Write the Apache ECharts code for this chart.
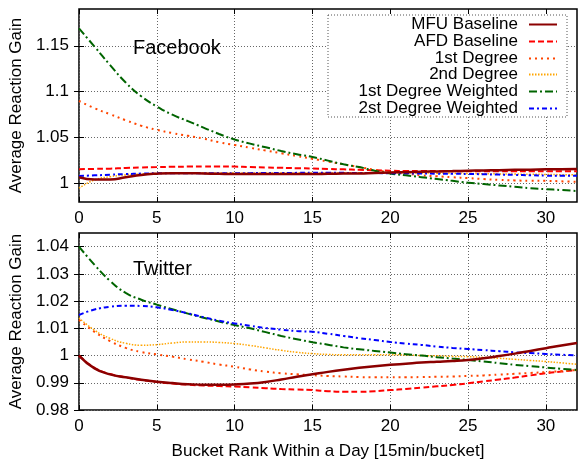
<!DOCTYPE html>
<html><head><meta charset="utf-8">
<script src="https://cdn.jsdelivr.net/npm/echarts@6/dist/echarts.min.js"></script>
<style>html,body{margin:0;padding:0;background:#fff}#c{width:578px;height:462px}</style>
</head><body><div id="c"></div>
<script>
const buckets = [0,1,2,3,4,5,6,7,8,9,10,11,12,13,14,15,16,17,18,19,20,21,22,23,24,25,26,27,28,29,30,31,32];
const seriesNames = ['MFU Baseline','AFD Baseline','1st Degree','2nd Degree','1st Degree Weighted','2st Degree Weighted'];
const xTicks = [0,5,10,15,20,25,30];
const fbTicks = [1,1.05,1.1,1.15];
const twTicks = [0.98,0.99,1,1.01,1.02,1.03,1.04];

// Facebook
const fbMFU = [1.007,1.0045,1.0045,1.007,1.0095,1.0108,1.0113,1.0113,1.011,1.0107,1.0105,1.0105,1.0105,1.0105,1.0105,1.0105,1.0107,1.0109,1.011,1.0115,1.012,1.0125,1.013,1.0133,1.0136,1.014,1.0143,1.0146,1.015,1.0152,1.0155,1.0157,1.016];
const fbAFD = [1.0157,1.016,1.0163,1.017,1.0176,1.018,1.0183,1.0185,1.0185,1.0185,1.0185,1.018,1.0176,1.0172,1.0168,1.0165,1.016,1.0155,1.015,1.0145,1.014,1.0138,1.0137,1.0136,1.0135,1.0135,1.0135,1.0135,1.0135,1.0135,1.0135,1.0135,1.0135];
const fb1st = [1.090,1.082,1.0755,1.069,1.063,1.0585,1.055,1.052,1.049,1.045,1.042,1.039,1.036,1.033,1.030,1.027,1.024,1.021,1.018,1.015,1.0124,1.011,1.009,1.008,1.007,1.006,1.005,1.004,1.0035,1.003,1.003,1.0025,1.002];
const fb2nd = [0.995,1.004,1.0075,1.0095,1.0105,1.011,1.0113,1.0115,1.0115,1.0115,1.0115,1.0115,1.0115,1.0115,1.0115,1.0115,1.0116,1.0117,1.0118,1.0119,1.012,1.0118,1.0116,1.0114,1.0112,1.011,1.0108,1.0106,1.0104,1.0102,1.010,1.0097,1.0095];
const fb1stW = [1.169,1.149,1.129,1.110,1.095,1.084,1.075,1.068,1.061,1.054,1.048,1.0435,1.0395,1.0355,1.032,1.029,1.025,1.021,1.018,1.014,1.011,1.009,1.007,1.005,1.003,1.001,0.9995,0.998,0.9965,0.995,0.994,0.993,0.992];
const fb2ndW = [1.0084,1.009,1.0097,1.0104,1.0109,1.0113,1.0114,1.0114,1.0114,1.0113,1.0113,1.0114,1.0115,1.0116,1.0117,1.0118,1.0118,1.0117,1.0116,1.0115,1.0113,1.0112,1.011,1.0108,1.0107,1.0105,1.0102,1.0098,1.0095,1.0091,1.0087,1.0086,1.0085];

// Twitter
const twMFU = [1.0,0.9953,0.9931,0.992,0.9911,0.9904,0.9899,0.9895,0.9893,0.9893,0.9894,0.9897,0.9903,0.9912,0.9922,0.9931,0.994,0.9948,0.9955,0.9961,0.9966,0.997,0.9974,0.9977,0.998,0.9984,0.999,0.9998,1.0007,1.0017,1.0027,1.0037,1.0046];
const twAFD = [1.0,0.9955,0.9932,0.992,0.991,0.9903,0.9897,0.9893,0.989,0.9888,0.9886,0.9883,0.988,0.9877,0.9875,0.9873,0.9869,0.9867,0.9867,0.9869,0.9873,0.9877,0.9882,0.9887,0.9892,0.9898,0.9905,0.9912,0.9919,0.9927,0.9935,0.9941,0.9947];
const tw1st = [1.0131,1.0087,1.0053,1.0028,1.0013,1.0004,0.9996,0.9986,0.9977,0.9967,0.9959,0.9949,0.9941,0.9935,0.9931,0.9928,0.9925,0.9923,0.9921,0.992,0.992,0.992,0.9921,0.9922,0.9923,0.9925,0.9927,0.993,0.9933,0.9936,0.9939,0.9943,0.9947];
const tw2nd = [1.0138,1.0093,1.0063,1.0045,1.0038,1.004,1.0046,1.005,1.005,1.0048,1.0044,1.0037,1.0028,1.0019,1.0012,1.0007,1.0004,1.0003,1.0003,1.0003,1.0003,1.0002,1.0,0.9999,0.9997,0.9996,0.9993,0.999,0.9986,0.9982,0.9978,0.9973,0.9968];
const tw1stW = [1.040,1.0333,1.0274,1.0230,1.0205,1.0187,1.0170,1.0154,1.0139,1.0125,1.0112,1.010,1.0086,1.0072,1.006,1.0049,1.004,1.003,1.0023,1.0017,1.0011,1.0005,1.0,0.9994,0.9989,0.9984,0.9978,0.9972,0.9966,0.9961,0.9956,0.9951,0.9947];
const tw2ndW = [1.0149,1.0169,1.0179,1.0183,1.0182,1.0177,1.0167,1.0155,1.0141,1.0128,1.0118,1.0109,1.0101,1.0095,1.009,1.0087,1.008,1.0072,1.0064,1.0057,1.005,1.0044,1.0039,1.0033,1.0028,1.0024,1.002,1.0016,1.0012,1.0009,1.0006,1.0003,1.0];

const fbData = [fbMFU, fbAFD, fb1st, fb2nd, fb1stW, fb2ndW];
const twData = [twMFU, twAFD, tw1st, tw2nd, tw1stW, tw2ndW];

const FONT = 'Liberation Sans';
const FS = 17;
const styles = [
  {color:'#8b0000', width:2.5, type:'solid'},
  {color:'#ff0000', width:2, type:[6,3]},
  {color:'#ff4500', width:2, type:[2,4]},
  {color:'#ffa500', width:1.5, type:[1.5,1.5]},
  {color:'#006400', width:2, type:[8,3,2,3]},
  {color:'#0000ff', width:2, type:[5,3,2,3]}
];

function pairs(arr){ return buckets.map((x,i)=>[x, arr[i]]); }

const gridLine = {show:true, lineStyle:{color:'#666', width:1, type:[1,2]}};
function xMain(gi){
  return {type:'value', gridIndex:gi, min:0, max:32, position:'bottom',
    axisLine:{show:false},
    axisTick:{show:true, inside:true, length:5, customValues:xTicks, lineStyle:{color:'#000'}},
    axisLabel:{customValues:xTicks, color:'#000', fontSize:FS, fontFamily:FONT, margin:8},
    splitLine:gridLine};
}
function xMirror(gi){
  return {type:'value', gridIndex:gi, min:0, max:32, position:'top',
    axisLine:{show:false},
    axisTick:{show:true, inside:true, length:5, customValues:xTicks, lineStyle:{color:'#000'}},
    axisLabel:{show:false}, splitLine:{show:false}};
}
function yMain(gi, mn, mx, ticks){
  return {type:'value', gridIndex:gi, min:mn, max:mx, position:'left',
    name:'Average Reaction Gain', nameLocation:'middle', nameGap:52,
    nameTextStyle:{color:'#000', fontSize:FS, fontFamily:FONT},
    axisLine:{show:false},
    axisTick:{show:true, inside:true, length:5, customValues:ticks, lineStyle:{color:'#000'}},
    axisLabel:{customValues:ticks, color:'#000', fontSize:FS, fontFamily:FONT, margin:10},
    splitLine:gridLine};
}
function yMirror(gi, mn, mx, ticks){
  return {type:'value', gridIndex:gi, min:mn, max:mx, position:'right',
    axisLine:{show:false},
    axisTick:{show:true, inside:true, length:5, customValues:ticks, lineStyle:{color:'#000'}},
    axisLabel:{show:false}, splitLine:{show:false}};
}

const xAxes = [xMain(0), xMirror(0), xMain(1), xMirror(1)];
xAxes[2].name = 'Bucket Rank Within a Day [15min/bucket]';
xAxes[2].nameLocation = 'middle';
xAxes[2].nameGap = 33;
xAxes[2].nameTextStyle = {color:'#000', fontSize:FS, fontFamily:FONT};

const series = [];
[fbData, twData].forEach((set, gi)=>{
  set.forEach((arr, k)=>{
    series.push({
      name: seriesNames[k], type:'line', xAxisIndex: gi*2, yAxisIndex: gi*2,
      data: pairs(arr), symbol:'none', smooth:true, z: 2 + (k===0?1:0),
      lineStyle:{color:styles[k].color, width:styles[k].width, type:styles[k].type},
      itemStyle:{color:styles[k].color}
    });
  });
});

const rowCenters = [24, 41, 58, 74, 91, 108];
const legends = seriesNames.map((n, k)=>({
  data:[{name:n}], orient:'horizontal', right:20, top:rowCenters[k]-8, align:'right',
  padding:0, itemWidth:28, itemHeight:14, itemGap:0, z:10,
  itemStyle:{opacity:0, borderWidth:0},
  textStyle:{color:'#000', fontSize:FS, fontFamily:FONT, lineHeight:16, padding:[0,6,0,0]},
  selectedMode:false
}));

const chart = echarts.init(document.getElementById('c'), null, {renderer:'canvas'});
chart.setOption({
  animation:false,
  backgroundColor:'#fff',
  grid:[
    {left:77, top:9, width:500, height:193, show:true, borderColor:'#000', borderWidth:1.5, backgroundColor:'transparent'},
    {left:77, top:233, width:500, height:177, show:true, borderColor:'#000', borderWidth:1.5, backgroundColor:'transparent'}
  ],
  xAxis: xAxes,
  yAxis: [yMain(0, 0.98, 1.19, fbTicks), yMirror(0, 0.98, 1.19, fbTicks), yMain(1, 0.98, 1.045, twTicks), yMirror(1, 0.98, 1.045, twTicks)],
  legend: legends,
  graphic:[
    {type:'rect', z:5, shape:{x:328, y:15, width:239, height:102},
      style:{fill:'#fff', stroke:'#555', lineWidth:1, lineDash:[1,2]}},
    {type:'text', z:6, x:133, y:48, style:{text:'Facebook', font:'20px "Liberation Sans"', fill:'#000', verticalAlign:'middle'}},
    {type:'text', z:6, x:133, y:269, style:{text:'Twitter', font:'20px "Liberation Sans"', fill:'#000', verticalAlign:'middle'}}
  ],
  series: series
});
</script></body></html>
